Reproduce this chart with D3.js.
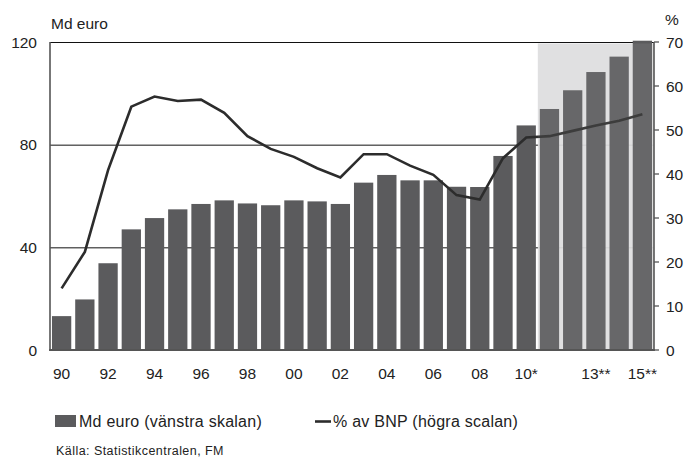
<!DOCTYPE html>
<html>
<head>
<meta charset="utf-8">
<script src="https://cdn.jsdelivr.net/npm/d3@7"></script>
<style>
  html, body { margin: 0; padding: 0; background: #fff; }
  svg { display: block; font-family: "Liberation Sans", Arial, sans-serif; }
</style>
</head>
<body>
<svg id="chart" width="688" height="457"></svg>
<script>
const years = [1990,1991,1992,1993,1994,1995,1996,1997,1998,1999,2000,2001,2002,2003,2004,2005,2006,2007,2008,2009,2010,2011,2012,2013,2014,2015];
const debtBn = [13.2,19.7,33.8,47.0,51.4,54.8,56.9,58.3,57.1,56.4,58.3,57.9,56.9,65.2,68.2,66.1,66.1,63.6,63.5,75.6,87.5,93.9,101.2,108.3,114.3,120.5];
const pctGdp = [14.0,22.3,40.9,55.3,57.6,56.6,56.9,53.9,48.6,45.7,43.9,41.3,39.2,44.5,44.5,41.9,39.8,35.2,34.2,43.6,48.3,48.6,49.8,51.0,52.1,53.6];
const xTickYears = [1990,1992,1994,1996,1998,2000,2002,2004,2006,2008,2010,2013,2015];
const xTickLabels = ["90","92","94","96","98","00","02","04","06","08","10*","13**","15**"];
const leftTicks = [0,40,80,120];
const rightTicks = [0,10,20,30,40,50,60,70];
const forecastStart = 2011;
const legendLabels = ["Md euro (vänstra skalan)", "% av BNP (högra scalan)"];
const sourceText = "Källa: Statistikcentralen, FM";

const svg = d3.select("#chart");
const L = 50, R = 654, T = 42, B = 350;

const x = d3.scaleBand().domain(years).range([L, R]).paddingInner(0.17).paddingOuter(0.085);
const yL = d3.scaleLinear().domain([0, 120]).range([B, T]);
const yR = d3.scaleLinear().domain([0, 70]).range([B, T]);
const gap = x.step() - x.bandwidth();

// gridlines
svg.append("g").selectAll("line").data(leftTicks.filter(d => d > 0)).join("line")
  .attr("x1", L).attr("x2", R).attr("y1", d => yL(d) + 0.5).attr("y2", d => yL(d) + 0.5)
  .attr("stroke", "#111").attr("stroke-width", 1);

// forecast shading
const shadeX = x(forecastStart) - gap / 2;
svg.append("rect").attr("x", shadeX).attr("y", yL(120) + 1.5)
  .attr("width", R - shadeX).attr("height", B - yL(120) - 1.5)
  .attr("fill", "#dbdbdd").attr("opacity", 0.93);

// bars
svg.append("g").selectAll("rect").data(years).join("rect")
  .attr("x", d => x(d)).attr("width", x.bandwidth())
  .attr("y", (d, i) => yL(debtBn[i])).attr("height", (d, i) => B - yL(debtBn[i]))
  .attr("fill", "#5b5b5d");

// line
const line = d3.line().x((d, i) => x(years[i]) + x.bandwidth() / 2).y(d => yR(d));
svg.append("path").datum(pctGdp).attr("d", line)
  .attr("fill", "none").attr("stroke", "#2c2c2c").attr("stroke-width", 2.6).attr("stroke-linejoin", "miter");

// light overlay on forecast
svg.append("rect").attr("x", shadeX).attr("y", yL(120) + 1.5)
  .attr("width", R - shadeX).attr("height", B - yL(120) - 2)
  .attr("fill", "#fff").attr("opacity", 0.08);

// axes lines
svg.append("line").attr("x1", L).attr("x2", L).attr("y1", T).attr("y2", B + 1)
  .attr("stroke", "#555").attr("stroke-width", 1.6);
svg.append("line").attr("x1", R).attr("x2", R).attr("y1", T).attr("y2", B + 1)
  .attr("stroke", "#555").attr("stroke-width", 1.6);
svg.append("line").attr("x1", L - 0.8).attr("x2", R + 0.8).attr("y1", B).attr("y2", B)
  .attr("stroke", "#555").attr("stroke-width", 1.8);

// right ticks
svg.append("g").selectAll("line").data(rightTicks).join("line")
  .attr("x1", R).attr("x2", R + 5).attr("y1", d => yR(d)).attr("y2", d => yR(d))
  .attr("stroke", "#555").attr("stroke-width", 1.3);

// left labels
svg.append("g").selectAll("text").data(leftTicks).join("text")
  .attr("x", 37).attr("y", d => yL(d)).attr("dy", "0.36em")
  .attr("text-anchor", "end").attr("font-size", 15.5).attr("fill", "#222")
  .text(d => d);

// right labels
svg.append("g").selectAll("text").data(rightTicks).join("text")
  .attr("x", 666).attr("y", d => yR(d)).attr("dy", "0.36em")
  .attr("text-anchor", "start").attr("font-size", 15.5).attr("fill", "#222")
  .text(d => d);

// x labels
svg.append("g").selectAll("text").data(xTickYears).join("text")
  .attr("x", d => x(d) + x.bandwidth() / 2).attr("y", 379)
  .attr("text-anchor", "middle").attr("font-size", 15.5).attr("fill", "#222")
  .text((d, i) => xTickLabels[i]);

// axis titles
svg.append("text").attr("x", 51).attr("y", 29).attr("font-size", 15.5).attr("fill", "#222").text("Md euro");
svg.append("text").attr("x", 665).attr("y", 25).attr("font-size", 15.5).attr("fill", "#222").text("%");

// legend
svg.append("rect").attr("x", 55).attr("y", 415).attr("width", 21).attr("height", 12).attr("fill", "#5b5b5d");
svg.append("text").attr("x", 79).attr("y", 427).attr("font-size", 16).attr("letter-spacing", 0.25).attr("fill", "#222").text(legendLabels[0]);
svg.append("line").attr("x1", 315).attr("x2", 331).attr("y1", 421.5).attr("y2", 421.5)
  .attr("stroke", "#2c2c2c").attr("stroke-width", 2.6);
svg.append("text").attr("x", 333).attr("y", 427).attr("font-size", 16).attr("letter-spacing", 0.25).attr("fill", "#222").text(legendLabels[1]);

// source
svg.append("text").attr("x", 56).attr("y", 455).attr("font-size", 12.5).attr("letter-spacing", 0.45).attr("fill", "#222").text(sourceText);
</script>
</body>
</html>
